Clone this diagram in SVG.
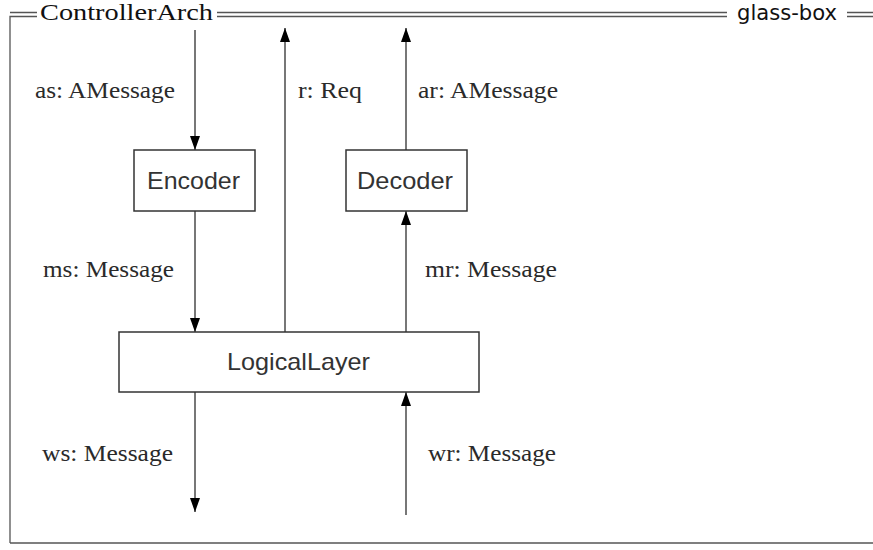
<svg xmlns="http://www.w3.org/2000/svg" width="873" height="550" viewBox="0 0 873 550">
<style>
.frame{stroke:#555;stroke-width:1.3;fill:none}
.box{fill:#fff;stroke:#333;stroke-width:1.5}
.conn{stroke:#555;stroke-width:1.6;fill:none}
.lbl{font-family:"Liberation Serif","Times New Roman",serif;font-size:24px;fill:#2a2a2a}
.nt{font-family:"Liberation Sans",Arial,sans-serif;font-size:24px;fill:#333}
.hd{font-family:"Liberation Serif",serif;font-size:24px;fill:#111}
.hs{font-family:"DejaVu Sans","Liberation Sans",sans-serif;font-size:21px;fill:#111}
</style>
<defs>
<marker id="arr" viewBox="0 0 14 10" refX="14" refY="5" markerWidth="14" markerHeight="10" markerUnits="userSpaceOnUse" orient="auto">
<path d="M0,0 L14,5 L0,10 Z" fill="#000"/>
</marker>
</defs>
<rect width="873" height="550" fill="#fff"/>
<g id="frame">
<path class="frame" d="M10,543 L10,16.5 L37,16.5 M10,12.5 L37,12.5 M217,12.5 L727,12.5 M217,16.5 L727,16.5 M847,12.5 L873,12.5 M847,16.5 L873,16.5 M10,543 L873,543"/>
<text class="hd" x="40" y="20" textLength="173" lengthAdjust="spacingAndGlyphs">ControllerArch</text>
<text class="hs" x="737" y="20" textLength="100" lengthAdjust="spacingAndGlyphs">glass-box</text>
</g>
<g id="connectors">
<line class="conn" x1="195" y1="30" x2="195" y2="150" marker-end="url(#arr)"/>
<line class="conn" x1="195" y1="211" x2="195" y2="332" marker-end="url(#arr)"/>
<line class="conn" x1="195" y1="392" x2="195" y2="512" marker-end="url(#arr)"/>
<line class="conn" x1="285" y1="332" x2="285" y2="28" marker-end="url(#arr)"/>
<line class="conn" x1="406" y1="150" x2="406" y2="28" marker-end="url(#arr)"/>
<line class="conn" x1="406" y1="332" x2="406" y2="211" marker-end="url(#arr)"/>
<line class="conn" x1="406" y1="515" x2="406" y2="392" marker-end="url(#arr)"/>
<text class="lbl" x="35" y="98" textLength="140" lengthAdjust="spacingAndGlyphs">as: AMessage</text>
<text class="lbl" x="298" y="98" textLength="64" lengthAdjust="spacingAndGlyphs">r: Req</text>
<text class="lbl" x="418" y="98" textLength="140" lengthAdjust="spacingAndGlyphs">ar: AMessage</text>
<text class="lbl" x="43" y="277" textLength="131" lengthAdjust="spacingAndGlyphs">ms: Message</text>
<text class="lbl" x="425" y="277" textLength="132" lengthAdjust="spacingAndGlyphs">mr: Message</text>
<text class="lbl" x="42" y="461" textLength="131" lengthAdjust="spacingAndGlyphs">ws: Message</text>
<text class="lbl" x="428" y="461" textLength="128" lengthAdjust="spacingAndGlyphs">wr: Message</text>
</g>
<g id="encoder">
<rect class="box" x="134" y="150" width="121" height="61"/>
<text class="nt" x="147" y="189" textLength="93" lengthAdjust="spacingAndGlyphs">Encoder</text>
</g>
<g id="decoder">
<rect class="box" x="346" y="150" width="121" height="61"/>
<text class="nt" x="357" y="189" textLength="96" lengthAdjust="spacingAndGlyphs">Decoder</text>
</g>
<g id="logicallayer">
<rect class="box" x="119" y="332" width="360" height="60"/>
<text class="nt" x="227" y="370" textLength="143" lengthAdjust="spacingAndGlyphs">LogicalLayer</text>
</g>
</svg>
